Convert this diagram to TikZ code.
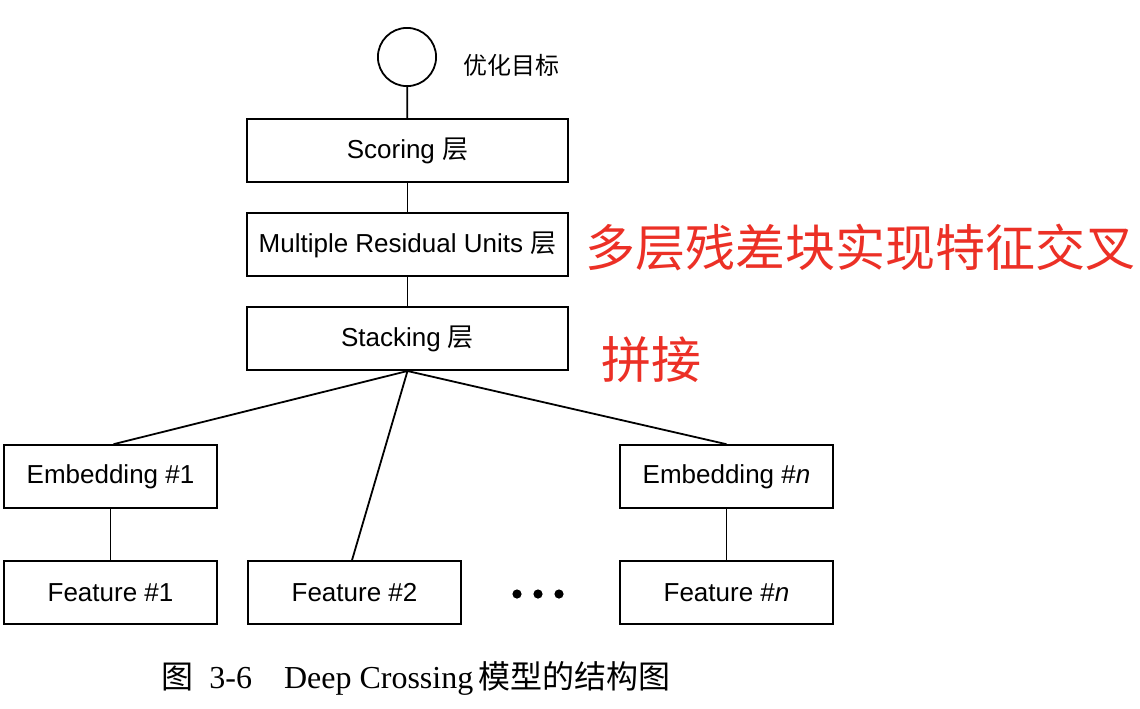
\documentclass[tikz,border=0pt]{standalone}
\usepackage{fontspec}
\setmainfont{Liberation Sans}
\newfontfamily\cjk{Noto Sans CJK SC}
\newfontfamily\capserif{Liberation Serif}
\usepackage{tikz}
\usepackage{xcolor}
\usetikzlibrary{positioning}
\definecolor{notered}{RGB}{236,48,38}
\tikzset{
  layerbox/.style={
    rectangle, draw=black, line width=0.9pt,
    minimum width=160.5pt, minimum height=31.5pt,
    inner sep=2pt, font=\fontsize{13}{15}\selectfont
  },
  smallbox/.style={
    rectangle, draw=black, line width=0.9pt,
    minimum width=106.5pt, minimum height=31.5pt,
    inner sep=2pt, font=\fontsize{13}{15}\selectfont
  },
  goal/.style={
    circle, draw=black, line width=0.9pt,
    minimum size=29.1pt, inner sep=0pt
  },
  link/.style={line width=0.9pt},
  note/.style={
    text=notered, font=\fontsize{25}{28}\selectfont\cjk, inner sep=0pt
  },
}

\begin{document}
\begin{tikzpicture}[x=0.5pt,y=-0.5pt]
\useasboundingbox[fill=white] (0,0) rectangle (1140,708);

%% ── Top stack ────────────────────────────────────────────────────────────
\node[goal] (target) at (407,57) {};
\node[anchor=west, inner sep=0pt, font=\fontsize{12}{14}\selectfont\cjk,
      right=13pt of target, yshift=-4pt] (targetlabel) {优化目标};

\node[layerbox, below=15.6pt of target, xshift=0.25pt] (scoring)
  {Scoring {\cjk 层}};
\node[layerbox, below=14.6pt of scoring] (residual)
  {Multiple Residual Units {\cjk 层}};
\node[layerbox, below=14.6pt of residual] (stacking)
  {Stacking {\cjk 层}};

%% ── Red notes on the right ───────────────────────────────────────────────
\node[note, anchor=west] (crossnote) at (585,247) {多层残差块实现特征交叉};
\node[note, anchor=west] (concatnote) at (601,360) {拼接};

%% ── Embedding and feature row ────────────────────────────────────────────
\node[smallbox, below=36.6pt of stacking, xshift=-148.5pt] (emb1)
  {Embedding \#1};
\node[smallbox, below=36.6pt of stacking, xshift=159.5pt] (embn)
  {Embedding \#\textit{n}};

\node[smallbox, below=25.6pt of emb1] (feat1) {Feature \#1};
\node[smallbox, right=14.6pt of feat1] (feat2) {Feature \#2};
\node[smallbox, below=25.6pt of embn] (featn) {Feature \#\textit{n}};

\coordinate (dots) at (538,594);
\foreach \dx in {-21,0,21}
  \fill ([xshift=\dx*0.5pt]dots) circle (2.3pt);

%% ── Connectors ───────────────────────────────────────────────────────────
\draw[link] (target) -- (scoring);
\draw[link] (scoring) -- (residual);
\draw[link] (residual) -- (stacking);
\draw[link] (stacking.south) -- ([xshift=1.5pt]emb1.north);
\draw[link] (stacking.south) -- ([xshift=-1.25pt]feat2.north);
\draw[link] (stacking.south) -- (embn.north);
\draw[link] (emb1) -- (feat1);
\draw[link] (embn) -- (featn);

%% ── Caption ──────────────────────────────────────────────────────────────
\node[inner sep=0pt, font=\fontsize{16}{18}\selectfont\capserif]
  (caption) at (416,678)
  {{\cjk 图}\enspace 3-6\quad Deep Crossing\,{\cjk 模型的结构图}};

\end{tikzpicture}
\end{document}
